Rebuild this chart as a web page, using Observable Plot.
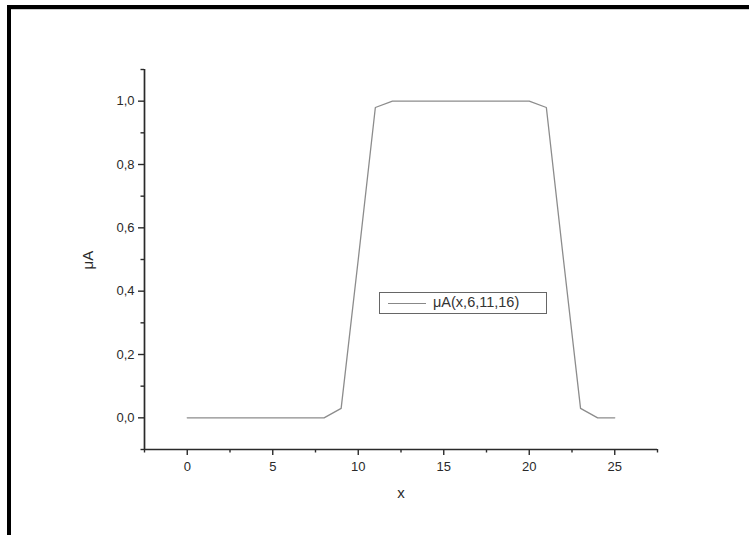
<!DOCTYPE html>
<html>
<head>
<meta charset="utf-8">
<script src="https://cdn.jsdelivr.net/npm/d3@7"></script>
<script src="https://cdn.jsdelivr.net/npm/@observablehq/plot@0.6"></script>
<style>
  html, body { margin: 0; padding: 0; background: #fff; }
  #wrap { position: relative; width: 749px; height: 535px; overflow: hidden; font-family: "Liberation Sans", Arial, sans-serif; }
  #wrap svg { position: absolute; left: 0; top: 0; }
  .bTop { position: absolute; left: 7px; top: 5px; width: 742px; height: 4px; background: #000; }
  .bTop2 { position: absolute; left: 7px; top: 9px; width: 742px; height: 1px; background: #ccc; }
  .bLeft { position: absolute; left: 7px; top: 5px; width: 4px; height: 530px; background: #000; }
  .legend { position: absolute; left: 379px; top: 292px; width: 166px; height: 20px; border: 1px solid #666; background: #fff; box-sizing: content-box; }
  .legend .ln { position: absolute; left: 8px; top: 10px; width: 38px; height: 0; border-top: 1.2px solid #888; }
  .legend .tx { position: absolute; left: 53px; top: 1px; font-size: 14.5px; color: #333; white-space: nowrap; }
</style>
</head>
<body>
<div id="wrap"></div>
<script>
// Data
const xValues = [0, 1, 2, 3, 4, 5, 6, 7, 8, 9, 10, 11, 12, 13, 14, 15, 16, 17, 18, 19, 20, 21, 22, 23, 24, 25];
const muValues = [0, 0, 0, 0, 0, 0, 0, 0, 0, 0.03, 0.5, 0.98, 1, 1, 1, 1, 1, 1, 1, 1, 1, 0.98, 0.5, 0.03, 0, 0];
const xMajorTicks = [0, 5, 10, 15, 20, 25];
const xMinorTicks = [-2.5, 2.5, 7.5, 12.5, 17.5, 22.5, 27.5];
const yMajorTicks = [0, 0.2, 0.4, 0.6, 0.8, 1.0];
const yMinorTicks = [-0.1, 0.1, 0.3, 0.5, 0.7, 0.9, 1.1];
const xDomain = [-2.5, 27.5];
const yDomain = [-0.1, 1.1];
const legendLabel = "μA(x,6,11,16)";
const xLabel = "x";
const yLabel = "μA";

const data = xValues.map((x, i) => ({x, y: muValues[i]}));
const fmt = d => d.toFixed(1).replace(".", ",");
const axisColor = "#2a2a2a";

const chart = Plot.plot({
  width: 749,
  height: 535,
  marginLeft: 144,
  marginRight: 92,
  marginTop: 69,
  marginBottom: 86,
  style: {fontFamily: "'Liberation Sans', Arial, sans-serif", fontSize: "13px", color: axisColor, background: "transparent"},
  x: {domain: xDomain},
  y: {domain: yDomain},
  marks: [
    Plot.axisX({ticks: xMajorTicks, tickSize: 6, tickPadding: 6, tickFormat: d => String(d), label: null, fontSize: 13, fill: axisColor, stroke: axisColor, strokeWidth: 1.4}),
    Plot.axisX({ticks: xMinorTicks, tickSize: 3.5, tickFormat: () => "", label: null, stroke: axisColor, strokeWidth: 1.4}),
    Plot.axisY({ticks: yMajorTicks, tickSize: 6, tickPadding: 4, tickFormat: fmt, label: null, fontSize: 13, fill: axisColor, stroke: axisColor, strokeWidth: 1.4}),
    Plot.axisY({ticks: yMinorTicks, tickSize: 3.5, tickFormat: () => "", label: null, stroke: axisColor, strokeWidth: 1.4}),
    Plot.ruleX([xDomain[0]], {y1: yDomain[0], y2: yDomain[1], stroke: axisColor, strokeWidth: 1.7}),
    Plot.ruleY([yDomain[0]], {x1: xDomain[0], x2: xDomain[1], stroke: axisColor, strokeWidth: 1.7}),
    Plot.line(data, {x: "x", y: "y", stroke: "#8c8c8c", strokeWidth: 1.3}),
    Plot.text([yLabel], {frameAnchor: "left", text: d => d, rotate: -90, dx: -56, dy: 10, fontSize: 15, fill: axisColor}),
    Plot.text([xLabel], {frameAnchor: "bottom", text: d => d, dy: 48, fontSize: 15, fill: axisColor})
  ]
});

const wrap = document.getElementById("wrap");
wrap.appendChild(chart);
const legend = document.createElement("div");
legend.className = "legend";
legend.innerHTML = '<div class="ln"></div><div class="tx"></div>';
legend.querySelector(".tx").textContent = legendLabel;
wrap.appendChild(legend);
for (const c of ["bTop", "bTop2", "bLeft"]) {
  const d = document.createElement("div");
  d.className = c;
  wrap.appendChild(d);
}
</script>
</body>
</html>
